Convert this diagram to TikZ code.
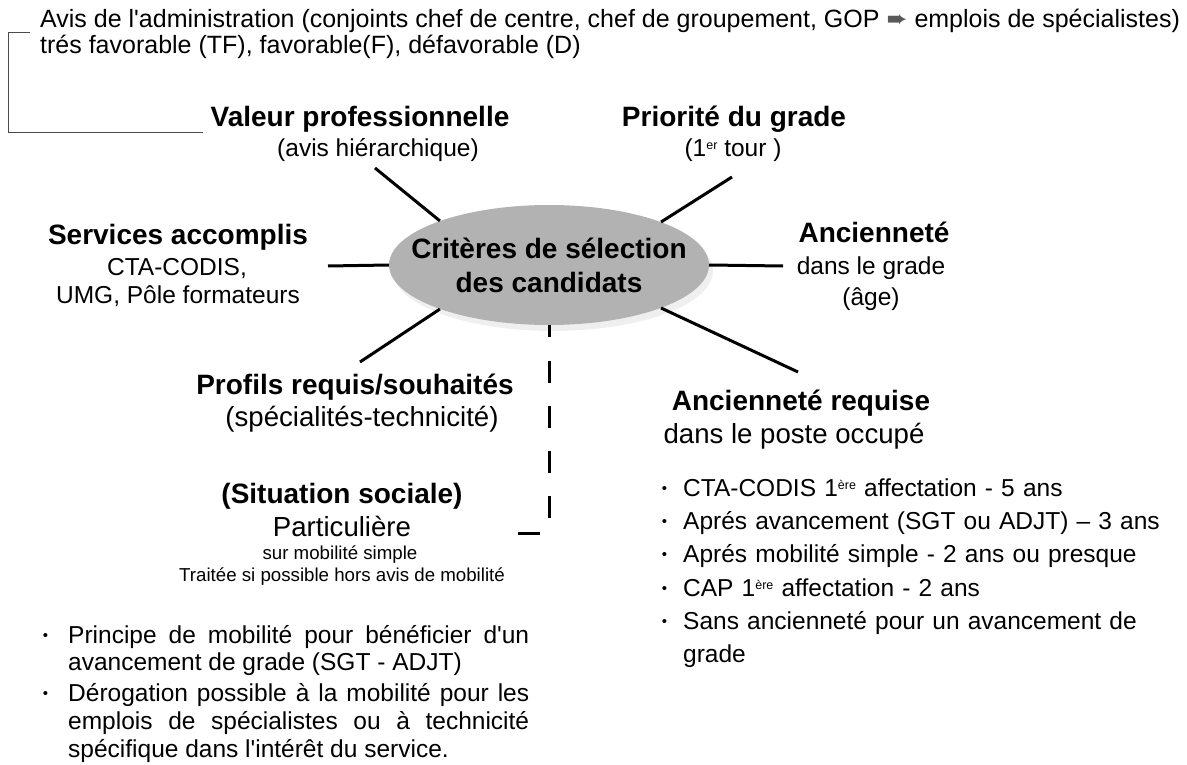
\documentclass[tikz,border=0pt]{standalone}
\usepackage{fontspec}
\setmainfont{Liberation Sans}
\newfontfamily\symfont{DejaVu Sans}
\usepackage{enumitem}
\usetikzlibrary{shapes.geometric}
\usetikzlibrary{shadows}
\newcommand{\puce}{\raisebox{3pt}{\fontsize{15}{15}\selectfont\textbullet}}
\newcommand{\expo}[1]{\raisebox{7pt}{\fontsize{12.5}{12.5}\selectfont #1}}
\newcommand{\apos}{\textquotesingle}
\tikzset{
    head/.style={
        font=\bfseries\fontsize{28}{32}\selectfont,
        inner sep=0pt, text height=20pt, text depth=0pt
    },
    sub/.style={
        font=\fontsize{24.5}{28}\selectfont,
        inner sep=0pt, text height=17.5pt, text depth=0pt
    },
    bigsub/.style={
        font=\fontsize{27.6}{32}\selectfont,
        inner sep=0pt, text height=19.8pt, text depth=0pt
    },
    tiny/.style={
        font=\fontsize{18.7}{22}\selectfont,
        inner sep=0pt, text height=13.4pt, text depth=0pt
    },
    crit/.style={
        ellipse,
        fill=black!30,
        minimum width=320pt, minimum height=120pt,
        inner xsep=-30pt, inner ysep=4pt,
        align=center,
        font=\bfseries\fontsize{28}{34}\selectfont,
        drop shadow={shadow xshift=4pt, shadow yshift=-6pt, fill=black!12}
    },
    spoke/.style={
        draw,
        line width=3pt
    },
    dashline/.style={
        draw,
        line width=3pt,
        dash pattern=on 22pt off 23.3pt,
        dash phase=10pt
    },
    bracket/.style={
        draw,
        line width=0.8pt,
        black!70
    },
    blist/.style={
        anchor=north west,
        inner sep=0pt,
        execute at begin node={\lineskiplimit=-100pt\relax}
    }
}
\setlist[itemize]{label=\puce, labelwidth=6pt,
    topsep=0pt, partopsep=0pt, parsep=0pt}

\begin{document}
\begin{tikzpicture}[x=1pt, y=-1pt]
    \useasboundingbox (0,0) rectangle (1187,765);

    \node[anchor=north west, align=left, inner sep=0pt, font=\fontsize{25}{26}\selectfont] (avis) at (40,9)
        {Avis de l\apos administration (conjoints chef de centre, chef de groupement, GOP {\symfont\color{black!65}➨} emplois de spécialistes)\\
         trés favorable (TF), favorable(F), défavorable (D)};

    \coordinate (soc-end) at (517,533);
    \node[crit] (crit) at (549,265) {Critères de sélection\\des candidats};
    \draw[dashline] (crit.south) |- (soc-end);

    % les criteres autour
    \node[head] (vp) at (360,117) {Valeur professionnelle};
    \node[sub] (vp-sub) at (378,148) {(avis hiérarchique)};

    \node[head] (pg) at (734,117) {Priorité du grade};
    \node[sub] (pg-sub) at (733,148) {(1\expo{er} tour )};

    \node[head] (sa) at (178,234) {Services accomplis};
    \node[sub] (sa-sub) at (177,267) {CTA-CODIS,};
    \node[sub] (sa-sub2) at (178,295) {UMG, Pôle formateurs};

    \node[head] (an) at (874,233) {Ancienneté};
    \node[sub] (an-sub) at (871,266) {dans le grade};
    \node[sub] (an-sub2) at (871,297) {(âge)};

    \node[head] (pr) at (355,384) {Profils requis/souhaités};
    \node[bigsub] (pr-sub) at (362,417) {(spécialités-technicité)};

    \node[head] (ar) at (801,400) {Ancienneté requise};
    \node[bigsub] (ar-sub) at (794,434) {dans le poste occupé};

    \node[head] (ss) at (342,493) {(Situation sociale)};
    \node[bigsub] (ss-sub) at (342,527) {Particulière};
    \node[tiny] (ss-sub2) at (340,553) {sur mobilité simple};
    \node[tiny] (ss-sub3) at (342,575) {Traitée si possible hors avis de mobilité};

    % listes
    \node[blist, text width=487pt, align=justify, font=\fontsize{24.5}{27.8}\selectfont] (mob) at (42,615) {%
        \begin{itemize}[leftmargin=26pt, labelsep=20pt, itemsep=3.2pt]
            \item \rule{0pt}{24pt}Principe de mobilité pour bénéficier d\apos un\linebreak avancement de grade (SGT - ADJT)
            \item Dérogation possible à la mobilité pour les\linebreak emplois de spécialistes ou à technicité\linebreak spécifique dans l\apos intérêt du service.
        \end{itemize}};
    \node[blist, text width=500pt, align=left, font=\fontsize{24.5}{33.2}\selectfont] (dur) at (661,463) {%
        \begin{itemize}[leftmargin=22pt, labelsep=16pt, itemsep=0pt]
            \item \rule{0pt}{26pt}CTA-CODIS 1\expo{ère} affectation - 5 ans
            \item Aprés avancement (SGT ou ADJT) – 3 ans
            \item Aprés mobilité simple - 2 ans ou presque
            \item CAP 1\expo{ère} affectation - 2 ans
            \item Sans ancienneté pour un avancement de\newline grade
        \end{itemize}};

    % rayons
    \coordinate (vp-end) at (375,168);
    \coordinate (sa-end) at (328,266);
    \coordinate (pr-end) at (360,362);
    \coordinate (pg-end) at (732,177);
    \coordinate (an-end) at (783,266);
    \coordinate (ar-end) at (798,372);
    \foreach \a/\e in {158/vp-end, 180/sa-end, 202/pr-end, 21/pg-end, 0/an-end, -21/ar-end}
        \draw[spoke] (crit.\a) -- (\e);

    % accolade de l'avis
    \coordinate (brk-top) at (30,32);
    \coordinate (brk-corner) at (8,132);
    \coordinate (brk-bot) at (203,132);
    \draw[bracket] (brk-top) -| (brk-corner) -- (brk-bot);
\end{tikzpicture}
\end{document}
